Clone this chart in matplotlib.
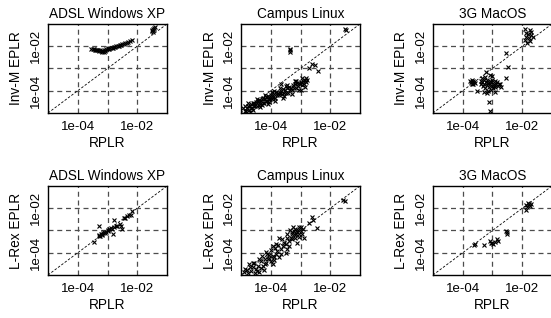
import numpy as np
import matplotlib
matplotlib.use("Agg")
import matplotlib.pyplot as plt

plt.rcParams['font.family'] = ['Liberation Sans', 'DejaVu Sans']

# valores, em log10: (RPLR, EPLR)
adsl_invm = [(-3.55, -2.12), (-3.50, -2.14), (-3.46, -2.13), (-3.42, -2.16), (-3.38, -2.15),
             (-3.35, -2.18), (-3.31, -2.17), (-3.28, -2.20), (-3.25, -2.19), (-3.22, -2.23),
             (-3.20, -2.20), (-3.17, -2.26), (-3.14, -2.22), (-3.12, -2.28), (-3.10, -2.21),
             (-3.07, -2.19), (-3.04, -2.14), (-3.00, -2.13), (-2.97, -2.10), (-2.94, -2.12),
             (-2.90, -2.08), (-2.86, -2.06), (-2.82, -2.07), (-2.78, -2.03), (-2.74, -2.04),
             (-2.70, -2.01), (-2.66, -2.00), (-2.62, -1.98), (-2.58, -1.96), (-2.54, -1.95),
             (-2.50, -1.92), (-2.45, -1.90), (-2.40, -1.87), (-2.35, -1.85), (-2.30, -1.82),
             (-2.24, -1.78), (-2.18, -1.72), (-1.52, -1.33), (-1.49, -1.28), (-1.46, -1.22),
             (-1.44, -1.18), (-1.42, -1.14), (-1.48, -1.38)]

campus_invm = [(-4.92, -4.78), (-4.88, -4.90), (-4.85, -4.70), (-4.82, -4.90), (-4.80, -4.77),
               (-4.77, -4.67), (-4.74, -4.87), (-4.70, -4.68), (-4.68, -4.76), (-4.65, -4.60),
               (-4.62, -4.76), (-4.60, -4.53), (-4.57, -4.67), (-4.55, -4.56), (-4.52, -4.68),
               (-4.50, -4.49), (-4.47, -4.69), (-4.45, -4.56), (-4.42, -4.46), (-4.40, -4.63),
               (-4.38, -4.42), (-4.35, -4.59), (-4.32, -4.45), (-4.30, -4.39), (-4.27, -4.53),
               (-4.25, -4.34), (-4.22, -4.56), (-4.20, -4.38), (-4.17, -4.45), (-4.15, -4.30),
               (-4.12, -4.46), (-4.10, -4.23), (-4.07, -4.37), (-4.05, -4.26), (-4.02, -4.38),
               (-4.00, -4.19), (-3.97, -4.39), (-3.95, -4.23), (-3.92, -4.30), (-3.90, -4.15),
               (-3.86, -4.31), (-3.82, -4.06), (-3.78, -4.20), (-3.75, -4.08), (-3.72, -4.20),
               (-3.68, -4.10), (-3.65, -4.00), (-3.62, -4.16), (-3.58, -3.94), (-3.55, -4.09),
               (-3.52, -3.98), (-3.48, -4.10), (-3.45, -3.90), (-3.42, -4.08), (-3.38, -3.84),
               (-3.35, -3.98), (-3.32, -3.86), (-3.28, -3.96), (-3.25, -3.76), (-3.22, -3.90),
               (-3.18, -3.72), (-3.15, -3.88), (-3.12, -3.66), (-3.08, -3.80), (-3.05, -3.66),
               (-3.02, -3.70), (-2.98, -3.60), (-2.95, -3.74), (-2.92, -3.56), (-2.88, -3.70),
               (-2.85, -3.54), (-2.82, -3.62), (-2.78, -3.50), (-4.70, -4.95), (-4.30, -4.62),
               (-3.60, -4.32), (-3.65, -3.72), (-3.00, -3.95), (-3.20, -3.55),
               (-4.75, -4.55), (-4.60, -4.85), (-4.45, -4.35), (-4.35, -4.75), (-4.20, -4.20),
               (-4.10, -4.60), (-3.95, -4.05), (-3.85, -4.45), (-3.70, -3.90), (-3.55, -4.25),
               (-3.45, -3.75), (-3.30, -4.15), (-3.15, -3.58), (-3.05, -3.95), (-2.95, -3.45),
               (-2.85, -3.85), (-2.80, -3.45), (-3.50, -3.80), (-3.90, -4.00), (-4.05, -4.50),
               (-3.37, -2.12), (-3.37, -2.18), (-3.37, -2.24), (-2.72, -2.98), (-2.60, -2.80),
               (-2.50, -2.85), (-2.42, -3.12), (-1.50, -1.21), (-1.48, -1.25)]

mac_invm = [(-1.91, -1.24), (-1.74, -1.29), (-1.80, -1.44), (-1.69, -1.48), (-1.86, -1.59),
            (-1.77, -1.63), (-1.63, -1.59), (-1.91, -1.74), (-1.74, -1.78), (-1.83, -1.84),
            (-1.69, -1.36), (-1.88, -1.39),
            (-2.54, -2.29), (-2.47, -2.94), (-2.54, -3.44), (-3.21, -3.17), (-3.13, -4.52),
            (-3.10, -4.89), (-3.52, -3.99), (-2.91, -4.04),
            (-3.74, -3.55), (-3.72, -3.62), (-3.70, -3.50), (-3.68, -3.68), (-3.66, -3.58),
            (-3.64, -3.72), (-3.62, -3.60), (-3.60, -3.66),
            (-3.40, -3.55), (-3.38, -3.70), (-3.36, -3.45), (-3.34, -3.62), (-3.32, -3.80),
            (-3.30, -3.52), (-3.28, -3.68), (-3.26, -3.40), (-3.24, -3.90), (-3.22, -3.60),
            (-3.20, -3.75), (-3.18, -3.50), (-3.16, -4.00), (-3.14, -3.65), (-3.12, -3.85),
            (-3.10, -3.55), (-3.08, -3.72), (-3.06, -3.95), (-3.04, -3.62), (-3.02, -3.80),
            (-3.00, -3.50), (-2.98, -3.90), (-2.96, -3.68), (-2.94, -3.78), (-2.92, -3.58),
            (-2.90, -3.85), (-2.88, -3.70), (-2.85, -3.62), (-2.82, -3.80), (-2.78, -3.72),
            (-2.75, -3.68), (-2.72, -3.85), (-3.30, -4.05), (-3.20, -4.10), (-3.00, -3.35),
            (-3.10, -3.30)]

adsl_lrex = [(-3.47, -3.50), (-3.30, -3.25), (-3.28, -3.22), (-3.25, -3.26), (-3.22, -3.17),
             (-3.20, -3.20), (-3.17, -3.14), (-3.14, -3.12), (-3.11, -3.08), (-3.08, -3.10),
             (-3.06, -3.05), (-3.30, -2.82), (-2.78, -2.52), (-2.83, -3.17), (-2.89, -2.89),
             (-2.86, -2.92), (-2.78, -2.86), (-2.72, -2.80), (-2.67, -2.82), (-2.56, -2.82),
             (-2.59, -2.71), (-2.52, -2.95), (-2.44, -2.44), (-2.40, -2.42), (-2.33, -2.37),
             (-2.28, -2.32), (-2.22, -2.29), (-2.17, -2.14), (-2.94, -2.95), (-3.00, -3.02),
             (-2.97, -2.98)]

campus_lrex = [(-4.89, -4.85), (-4.81, -4.79), (-4.72, -4.52), (-4.61, -4.64), (-4.52, -4.89),
               (-4.39, -4.85), (-4.22, -4.79), (-4.44, -4.59), (-4.33, -4.37), (-4.28, -4.14),
               (-4.17, -4.44), (-4.11, -4.04), (-4.06, -4.22), (-3.94, -4.49), (-3.89, -4.34),
               (-3.83, -4.07), (-3.72, -4.19), (-4.00, -3.89), (-3.94, -3.69), (-3.83, -3.59),
               (-3.72, -3.32), (-3.61, -3.39), (-3.56, -3.54), (-3.44, -3.84), (-3.39, -3.69),
               (-3.33, -3.32), (-3.28, -3.17), (-3.22, -3.02), (-3.17, -2.94), (-3.11, -3.09),
               (-3.06, -2.86), (-3.00, -3.02), (-2.94, -3.17), (-2.89, -3.32), (-3.11, -3.54),
               (-3.17, -3.32), (-3.39, -3.47), (-3.50, -3.59), (-3.67, -3.84), (-3.78, -3.92),
               (-3.94, -4.14), (-4.08, -4.29), (-4.19, -4.52), (-4.33, -4.67), (-4.50, -4.74),
               (-4.67, -4.82), (-4.78, -4.89), (-3.44, -3.17), (-3.28, -3.39), (-3.06, -3.17),
               (-2.97, -2.83), (-3.08, -2.98), (-3.30, -3.05), (-3.19, -3.20), (-4.85, -4.75),
               (-4.70, -4.65), (-4.55, -4.45), (-4.40, -4.30), (-4.25, -4.60), (-4.00, -4.35),
               (-3.90, -4.20), (-4.15, -3.95),
               (-3.35, -3.00), (-3.25, -2.85), (-3.15, -3.15), (-3.05, -3.30), (-2.92, -2.95),
               (-3.45, -3.35), (-3.60, -3.70), (-3.75, -3.65), (-3.85, -3.80), (-4.05, -4.10),
               (-4.20, -4.30), (-4.45, -4.80), (-4.60, -4.45), (-3.50, -4.00), (-3.65, -4.05),
               (-2.63, -2.41), (-2.59, -2.53), (-2.72, -2.68), (-2.44, -2.91), (-1.50, -1.66),
               (-1.56, -1.62)]

mac_lrex = [(-3.63, -3.66), (-3.58, -3.60), (-3.30, -3.65), (-3.08, -3.47), (-3.04, -3.55),
            (-3.00, -3.58), (-2.97, -3.59), (-2.93, -3.52), (-2.86, -3.39), (-2.83, -3.45),
            (-2.54, -3.02), (-2.52, -3.17), (-2.50, -3.08), (-1.88, -1.84), (-1.80, -1.78),
            (-1.74, -1.89), (-1.86, -2.08), (-1.84, -1.95), (-1.77, -1.82), (-1.72, -1.80)]

titles = ["ADSL Windows XP", "Campus Linux", "3G MacOS"]
row_labels = ["Inv-M EPLR", "L-Rex EPLR"]
panels = [[adsl_invm, campus_invm, mac_invm],
          [adsl_lrex, campus_lrex, mac_lrex]]
lim = (1e-5, 1e-1)

fig = plt.figure(figsize=(5.51, 3.18), dpi=100)
lefts = [0.0871, 0.4374, 0.7858]
bottoms = [0.6447, 0.1352]

for r in range(2):
    for c in range(3):
        ax = fig.add_axes([lefts[c], bottoms[r], 0.216, 0.28])
        pts = np.array(panels[r][c])
        ax.plot(10.0 ** pts[:, 0], 10.0 ** pts[:, 1], 'x', color='k', ms=3.5, mew=0.8, zorder=3)
        ax.plot(lim, lim, color='k', lw=0.6, dashes=(3, 2), zorder=2)
        ax.set_xscale('log')
        ax.set_yscale('log')
        ax.set_xlim(lim)
        ax.set_ylim(lim)
        ax.minorticks_off()
        for v in [1e-4, 1e-3, 1e-2]:
            ax.axvline(v, color='0.3', lw=0.9, dashes=(4, 3), zorder=1)
            ax.axhline(v, color='0.3', lw=0.9, dashes=(4, 3), zorder=1)
        ax.set_xticks([1e-4, 1e-2])
        ax.set_xticklabels(['1e-04', '1e-02'])
        ax.set_yticks([1e-4, 1e-2])
        ax.set_yticklabels(['1e-04', '1e-02'], rotation=90, va='center')
        ax.tick_params(length=0, labelsize=9.5)
        ax.tick_params(axis='x', pad=6)
        ax.tick_params(axis='y', pad=4)
        for s in ax.spines.values():
            s.set_linewidth(1.0)
        ax.set_title(titles[c], fontsize=9.8, pad=4)
        ax.set_xlabel("RPLR", fontsize=9.8, labelpad=2)
        ax.set_ylabel(row_labels[r], fontsize=9.8, labelpad=5)

fig.savefig("out.png", dpi=100)
